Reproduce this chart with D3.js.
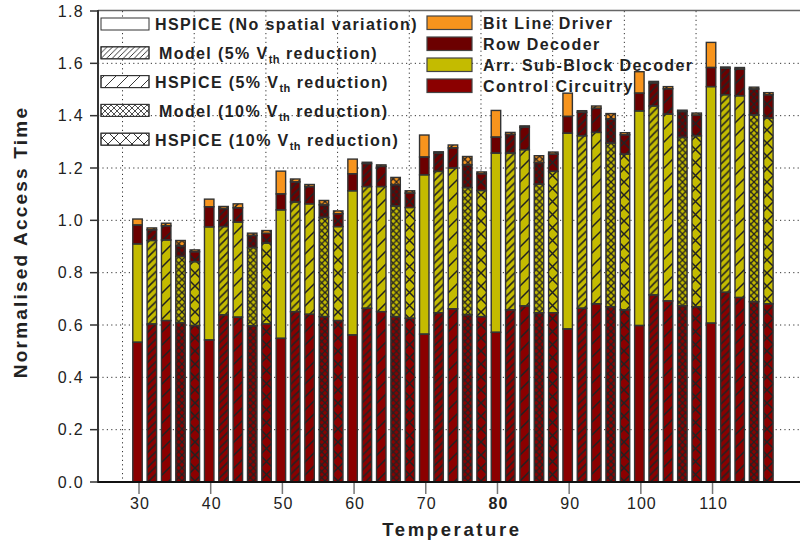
<!DOCTYPE html>
<html>
<head>
<meta charset="utf-8">
<script src="https://cdn.jsdelivr.net/npm/d3@7/dist/d3.min.js"></script>
<style>
body { margin: 0; background: #fff; }
text { font-family: "Liberation Sans", Arial, sans-serif; }
</style>
</head>
<body>
<script>
// temperature groups, 5 bars each (one bar per simulation case, 2 degrees apart)
var groups = [30, 40, 50, 60, 70, 80, 90, 100, 110];
var cases = ["HSPICE (No spatial variation)", "Model (5% Vth reduction)", "HSPICE (5% Vth reduction)",
             "Model (10% Vth reduction)", "HSPICE (10% Vth reduction)"];
var components = ["Control Circuitry", "Arr. Sub-Block Decoder", "Row Decoder", "Bit Line Driver"];

// segment heights, one value per bar (45 bars)
var controlCircuitry = [
  0.534, 0.604, 0.617, 0.609, 0.598,  0.543, 0.639, 0.630, 0.597, 0.604,
  0.549, 0.651, 0.641, 0.632, 0.617,  0.562, 0.664, 0.651, 0.632, 0.626,
  0.565, 0.647, 0.662, 0.639, 0.632,  0.572, 0.658, 0.673, 0.647, 0.647,
  0.585, 0.664, 0.681, 0.670, 0.658,  0.598, 0.715, 0.692, 0.674, 0.670,
  0.607, 0.725, 0.705, 0.689, 0.681];
var subBlockDecoder = [
  0.376, 0.319, 0.308, 0.253, 0.244,  0.432, 0.337, 0.363, 0.299, 0.309,
  0.491, 0.419, 0.422, 0.379, 0.359,  0.551, 0.465, 0.478, 0.423, 0.423,
  0.609, 0.540, 0.538, 0.486, 0.482,  0.685, 0.599, 0.597, 0.491, 0.540,
  0.748, 0.659, 0.655, 0.625, 0.595,  0.820, 0.722, 0.714, 0.643, 0.653,
  0.904, 0.755, 0.771, 0.714, 0.710];
var rowDecoder = [
  0.072, 0.041, 0.054, 0.040, 0.038,  0.077, 0.069, 0.055, 0.046, 0.037,
  0.061, 0.077, 0.066, 0.048, 0.049,  0.065, 0.088, 0.077, 0.081, 0.055,
  0.068, 0.070, 0.077, 0.087, 0.064,  0.061, 0.071, 0.086, 0.083, 0.066,
  0.064, 0.090, 0.092, 0.092, 0.074,  0.068, 0.088, 0.097, 0.099, 0.079,
  0.073, 0.101, 0.102, 0.099, 0.089];
var bitLineDriver = [
  0.023, 0.007, 0.010, 0.021, 0.007,  0.029, 0.008, 0.015, 0.009, 0.011,
  0.087, 0.011, 0.008, 0.017, 0.011,  0.056, 0.005, 0.006, 0.028, 0.009,
  0.084, 0.005, 0.011, 0.032, 0.007,  0.102, 0.008, 0.005, 0.026, 0.008,
  0.089, 0.006, 0.009, 0.021, 0.008,  0.082, 0.006, 0.008, 0.005, 0.008,
  0.096, 0.005, 0.006, 0.007, 0.008];

var yTicks = [0, 0.2, 0.4, 0.6, 0.8, 1.0, 1.2, 1.4, 1.6, 1.8];

var colors = ["#8b0000", "#c4bb00", "#6c0000", "#f7941d"];
var patternIds = [null, "m5", "h5", "m10", "h10"];

var width = 800, height = 545;
var svg = d3.select("body").append("svg").attr("width", width).attr("height", height);

var x = d3.scaleLinear().domain([24.28, 122.2]).range([98, 800]);
var y = d3.scaleLinear().domain([0, 1.8]).range([482, 11]);
var barW = x(1.32) - x(0);

// build table
var bars = [];
groups.forEach(function(g, gi) {
  cases.forEach(function(c, ci) {
    var i = gi * 5 + ci;
    bars.push({
      temp: g + 2 * ci, kase: ci,
      "Control Circuitry": controlCircuitry[i],
      "Arr. Sub-Block Decoder": subBlockDecoder[i],
      "Row Decoder": rowDecoder[i],
      "Bit Line Driver": bitLineDriver[i]
    });
  });
});
var series = d3.stack().keys(components)(bars);

// hatch patterns
var defs = svg.append("defs");
function diag(id, s, sw) {
  var p = defs.append("pattern").attr("id", id).attr("patternUnits", "userSpaceOnUse")
    .attr("width", s).attr("height", s);
  p.append("path").attr("d", "M0," + s + "L" + s + ",0M" + (-s/2) + "," + (s/2) + "L" + (s/2) + "," + (-s/2) +
      "M" + (s/2) + "," + (s*1.5) + "L" + (s*1.5) + "," + (s/2))
    .attr("stroke", "#222").attr("stroke-width", sw);
}
function cross(id, s, sw) {
  var p = defs.append("pattern").attr("id", id).attr("patternUnits", "userSpaceOnUse")
    .attr("width", s).attr("height", s);
  p.append("path").attr("d", "M0," + s + "L" + s + ",0M0,0L" + s + "," + s)
    .attr("stroke", "#222").attr("stroke-width", sw);
}
diag("m5", 7.5, 1.5);
diag("h5", 13, 1.5);
cross("m10", 6.5, 1.3);
cross("h10", 13, 1.5);
diag("lm5", 5.5, 0.9);
diag("lh5", 12, 0.9);
cross("lm10", 6, 0.8);
cross("lh10", 12, 0.9);

// grid
var grid = svg.append("g");
grid.selectAll(".gh").data(yTicks.filter(function(v) { return v > 0 && v < 1.8; }))
  .enter().append("line")
  .attr("x1", 98).attr("x2", 800)
  .attr("y1", function(d) { return y(d); }).attr("y2", function(d) { return y(d); })
  .attr("stroke", "#333").attr("stroke-dasharray", "1.2,3.2");
grid.selectAll(".gv").data(groups)
  .enter().append("line")
  .attr("x1", function(d) { return x(d - 2.3); }).attr("x2", function(d) { return x(d - 2.3); })
  .attr("y1", 11).attr("y2", 482)
  .attr("stroke", "#333").attr("stroke-dasharray", "1.2,3.2");

// bars
var barG = svg.append("g");
series.forEach(function(s, si) {
  barG.selectAll(".s" + si).data(s).enter().append("rect")
    .attr("x", function(d) { return x(d.data.temp) - 1.5 - barW / 2; })
    .attr("width", barW)
    .attr("y", function(d) { return y(d[1]); })
    .attr("height", function(d) { return y(d[0]) - y(d[1]); })
    .attr("fill", colors[si]);
});
barG.selectAll(".hatch").data(bars.filter(function(d) { return d.kase > 0; }))
  .enter().append("rect")
  .attr("x", function(d) { return x(d.temp) - 1.5 - barW / 2; })
  .attr("width", barW)
  .attr("y", function(d) { return y(series[3][bars.indexOf(d)][1]); })
  .attr("height", function(d) { return y(0) - y(series[3][bars.indexOf(d)][1]); })
  .attr("fill", function(d) { return "url(#" + patternIds[d.kase] + ")"; });
series.forEach(function(s, si) {
  barG.selectAll(".o" + si).data(s).enter().append("rect")
    .attr("x", function(d) { return x(d.data.temp) - 1.5 - barW / 2; })
    .attr("width", barW)
    .attr("y", function(d) { return y(d[1]); })
    .attr("height", function(d) { return y(d[0]) - y(d[1]); })
    .attr("fill", "none")
    .attr("stroke", "#333").attr("stroke-width", 1.4);
});

// axes
svg.append("line").attr("x1", 98).attr("x2", 800).attr("y1", 10.5).attr("y2", 10.5)
  .attr("stroke", "#666").attr("stroke-width", 1.5);
svg.append("line").attr("x1", 98).attr("x2", 98).attr("y1", 10).attr("y2", 483)
  .attr("stroke", "#333").attr("stroke-width", 2);
svg.append("line").attr("x1", 97).attr("x2", 800).attr("y1", 482).attr("y2", 482)
  .attr("stroke", "#111").attr("stroke-width", 2.2);

svg.selectAll(".yt").data(yTicks).enter().append("line")
  .attr("x1", 90).attr("x2", 98)
  .attr("y1", function(d) { return y(d); }).attr("y2", function(d) { return y(d); })
  .attr("stroke", "#333").attr("stroke-width", 1.5);
svg.selectAll(".yl").data(yTicks).enter().append("text")
  .attr("x", 84).attr("y", function(d) { return y(d); }).attr("dy", "0.36em")
  .attr("text-anchor", "end").attr("font-size", 16).attr("letter-spacing", 1.3)
  .attr("fill", "#222")
  .text(function(d) { return d3.format(".1f")(d); });

svg.selectAll(".xt").data(groups).enter().append("line")
  .attr("x1", function(d) { return x(d); }).attr("x2", function(d) { return x(d); })
  .attr("y1", 483).attr("y2", 494)
  .attr("stroke", "#777").attr("stroke-width", 1.5);
svg.selectAll(".xl").data(groups).enter().append("text")
  .attr("x", function(d) { return x(d) + 1; }).attr("y", 509)
  .attr("text-anchor", "middle").attr("font-size", 16).attr("letter-spacing", 1)
  .attr("font-weight", function(d) { return d === 80 ? "bold" : "normal"; })
  .attr("fill", "#222")
  .text(function(d) { return d; });

svg.append("text").attr("transform", "translate(27,242) rotate(-90)")
  .attr("text-anchor", "middle").attr("font-size", 19).attr("font-weight", "bold")
  .attr("letter-spacing", 2.2).attr("fill", "#222")
  .text("Normalised Access Time");
svg.append("text").attr("x", 452).attr("y", 536)
  .attr("text-anchor", "middle").attr("font-size", 18.5).attr("font-weight", "bold")
  .attr("letter-spacing", 2.6).attr("fill", "#222")
  .text("Temperature");

// left legend (cases)
var legL = svg.append("g");
cases.forEach(function(c, ci) {
  var top = 18 + ci * 28.8;
  legL.append("rect").attr("x", 101).attr("y", top).attr("width", 48).attr("height", 12)
    .attr("fill", "#fff").attr("stroke", "#333").attr("stroke-width", 1);
  if (ci > 0) {
    legL.append("rect").attr("x", 101).attr("y", top).attr("width", 48).attr("height", 12)
      .attr("fill", "url(#l" + patternIds[ci] + ")").attr("stroke", "#333").attr("stroke-width", 1);
  }
  var t = legL.append("text").attr("x", c.indexOf("Model") === 0 ? 159 : 155).attr("y", top + 12.3)
    .attr("font-size", 16).attr("font-weight", "bold").attr("letter-spacing", 1.4).attr("fill", "#222");
  var k = c.indexOf("Vth");
  if (k < 0) {
    t.text(c);
  } else {
    t.append("tspan").text(c.slice(0, k + 1));
    t.append("tspan").attr("font-size", 11).attr("dy", 4).attr("letter-spacing", 0.5).text("th");
    t.append("tspan").attr("dy", -4).text(c.slice(k + 3));
  }
});

// right legend (components, top to bottom)
var legR = svg.append("g");
components.slice().reverse().forEach(function(c, i) {
  var top = 16 + i * 21;
  legR.append("rect").attr("x", 427).attr("y", top).attr("width", 45).attr("height", 13.5)
    .attr("fill", colors[3 - i]).attr("stroke", "#444").attr("stroke-width", 1.2);
  legR.append("text").attr("x", 483).attr("y", top + 13)
    .attr("font-size", 16).attr("font-weight", "bold").attr("letter-spacing", 1.4).attr("fill", "#222")
    .text(c);
});
</script>
</body>
</html>
